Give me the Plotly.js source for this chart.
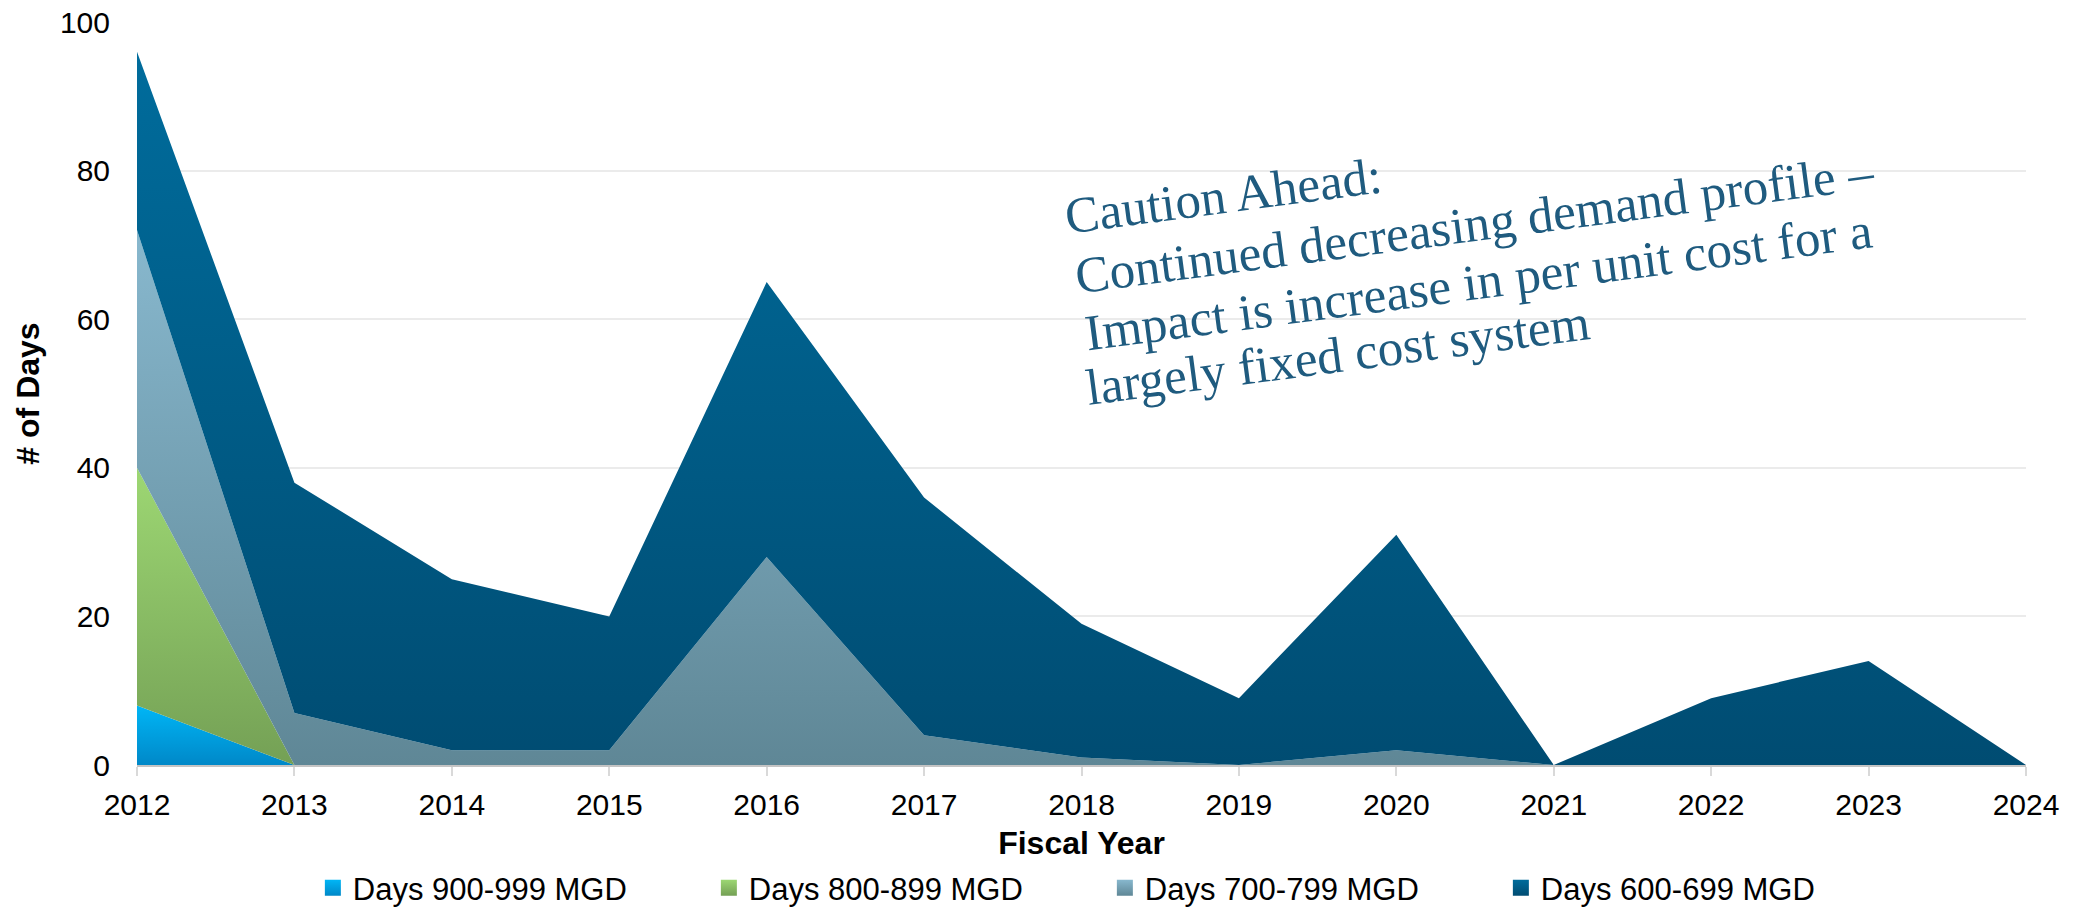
<!DOCTYPE html>
<html>
<head>
<meta charset="utf-8">
<script src="https://cdn.plot.ly/plotly-3.0.1.min.js"></script>
<style>
  html, body { margin: 0; padding: 0; background: #ffffff; }
  #chart { width: 2078px; height: 908px; }
</style>
</head>
<body>
<div id="chart"></div>
<script>
// ---- Data ----
const years = [2012, 2013, 2014, 2015, 2016, 2017, 2018, 2019, 2020, 2021, 2022, 2023, 2024];
const days900 = [8, 0, 0, 0, 0, 0, 0, 0, 0, 0, 0, 0, 0];
const days800 = [32, 0, 0, 0, 0, 0, 0, 0, 0, 0, 0, 0, 0];
const days700 = [32, 7, 2, 2, 28, 4, 1, 0, 2, 0, 0, 0, 0];
const days600 = [24, 31, 23, 18, 37, 32, 18, 9, 29, 0, 9, 14, 0];
const seriesNames = ['Days 900-999 MGD', 'Days 800-899 MGD', 'Days 700-799 MGD', 'Days 600-699 MGD'];
const yTickVals = [0, 20, 40, 60, 80, 100];
const noteLines = [
  'Caution Ahead:',
  'Continued decreasing demand profile –',
  'Impact is increase in per unit cost for a',
  'largely fixed cost system'
];

// ---- Styles ----
const gradients = [
  { top: '#00B6F6', bottom: '#0088C8' },
  { top: '#9DD773', bottom: '#74A055' },
  { top: '#88B8CE', bottom: '#5F8796' },
  { top: '#006C9C', bottom: '#004C72' }
];
const seriesValues = [days900, days800, days700, days600];
// centres of the rotated note lines (paper fractions)
const notePos = [
  { x: 0.5754, y: 0.7658 },
  { x: 0.7083, y: 0.7281 },
  { x: 0.7099, y: 0.6501 },
  { x: 0.6358, y: 0.5518 }
];

const font = 'Arial, "Liberation Sans", sans-serif';
const traces = [];
seriesValues.forEach((vals, i) => {
  traces.push({
    type: 'scatter',
    mode: 'lines',
    x: years,
    y: vals,
    name: seriesNames[i],
    stackgroup: 'one',
    fill: 'tonexty',
    line: { width: 0, color: gradients[i].top },
    fillcolor: gradients[i].top,
    fillgradient: {
      type: 'vertical',
      colorscale: [[0, gradients[i].bottom], [1, gradients[i].top]]
    },
    showlegend: false,
    hoverinfo: 'x+y+name'
  });
});
// legend entries (square swatches)
seriesNames.forEach((nm, i) => {
  traces.push({
    type: 'scatter',
    mode: 'markers',
    x: [null],
    y: [null],
    name: nm,
    showlegend: true,
    marker: {
      symbol: 'square',
      size: 17,
      color: gradients[i].top,
      gradient: { type: 'vertical', color: gradients[i].bottom },
      line: { width: 0 }
    }
  });
});

const annotations = noteLines.map((t, i) => ({
  xref: 'paper',
  yref: 'paper',
  x: notePos[i].x,
  y: notePos[i].y,
  xanchor: 'center',
  yanchor: 'middle',
  showarrow: false,
  textangle: -7.5,
  text: t,
  font: { family: '"Liberation Serif", "DejaVu Serif", serif', size: 51, color: '#1F5B7F' }
}));

const layout = {
  width: 2078,
  height: 908,
  paper_bgcolor: '#ffffff',
  plot_bgcolor: '#ffffff',
  margin: { l: 137, r: 52, t: 22, b: 143 },
  font: { family: font, color: '#000000', size: 30 },
  xaxis: {
    range: [2012, 2024],
    tickvals: years,
    ticktext: years.map(String),
    showgrid: false,
    zeroline: false,
    showline: true,
    linecolor: '#C4C4C4',
    linewidth: 2,
    ticks: 'outside',
    ticklen: 9,
    tickwidth: 2,
    tickcolor: '#D9D9D9',
    ticklabelstandoff: 3,
    tickfont: { family: font, size: 30, color: '#000000' },
    title: { text: '<b>Fiscal Year</b>', font: { family: font, size: 32, color: '#000000' }, standoff: 14 },
    automargin: false,
    fixedrange: true
  },
  yaxis: {
    range: [0, 100],
    tickvals: yTickVals,
    showgrid: true,
    gridcolor: '#EBEBEB',
    gridwidth: 2,
    zeroline: false,
    showline: false,
    ticks: '',
    ticklabelstandoff: 26,
    tickfont: { family: font, size: 30, color: '#000000' },
    title: { text: '<b># of Days</b>', font: { family: font, size: 32, color: '#000000' }, standoff: 10 },
    automargin: false,
    fixedrange: true
  },
  showlegend: true,
  legend: {
    orientation: 'h',
    xref: 'paper',
    x: 0.0931,
    xanchor: 'left',
    yref: 'container',
    y: 0.022,
    yanchor: 'middle',
    font: { family: font, size: 31, color: '#000000' },
    entrywidth: 351,
    entrywidthmode: 'pixels',
    traceorder: 'normal',
    bgcolor: 'rgba(0,0,0,0)'
  },
  annotations: annotations
};

Plotly.newPlot('chart', traces, layout, { staticPlot: true, displayModeBar: false });
</script>
</body>
</html>
